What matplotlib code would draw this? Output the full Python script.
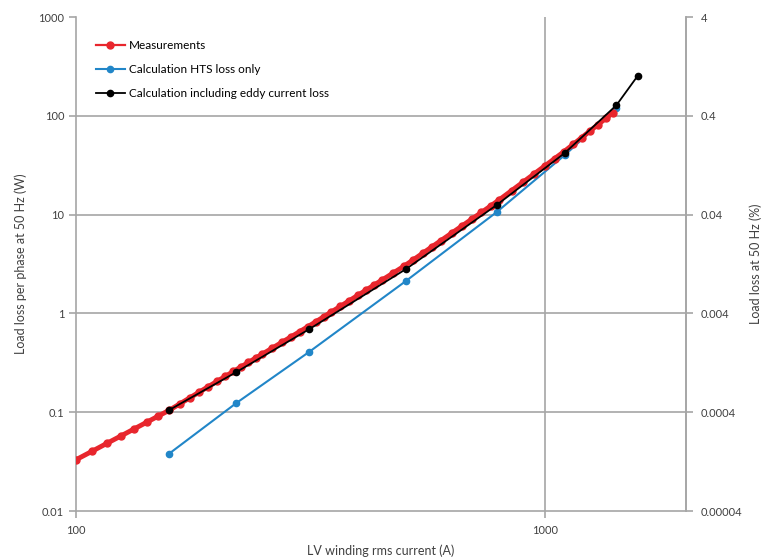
import numpy as np
import matplotlib
matplotlib.use("Agg")
import matplotlib.pyplot as plt
from matplotlib.ticker import FixedLocator, FixedFormatter, NullLocator

plt.rcParams['font.family'] = ['Lato', 'DejaVu Sans']

# Measurements (LV current in A, load loss per phase in W)
meas_current = [100, 108.3, 116.7, 125, 133.3, 141.7, 150, 158.3, 166.7, 175,
                183.3, 191.7, 200, 208.3, 216.7, 225, 233.3, 241.7, 250, 262.5,
                275, 287.5, 300, 312.5, 325, 337.5, 350, 366.7, 383.3, 400,
                416.7, 433.3, 450, 475, 500, 525, 550, 575, 600, 633,
                667, 700, 733, 767, 800, 850, 900, 950, 1000, 1050,
                1100, 1150, 1200, 1250, 1300, 1350, 1400]
meas_loss = [0.0330, 0.0403, 0.0487, 0.0578, 0.0680, 0.0793, 0.0916, 0.105, 0.1217, 0.1399,
             0.1599, 0.1818, 0.2053, 0.2307, 0.2585, 0.2876, 0.3192, 0.3529, 0.3883, 0.4463,
             0.5096, 0.5783, 0.6530, 0.7338, 0.8237, 0.9220, 1.028, 1.181, 1.348, 1.532,
             1.731, 1.946, 2.179, 2.561, 2.986, 3.499, 4.079, 4.723, 5.435, 6.483,
             7.702, 9.036, 10.52, 12.22, 14.11, 17.47, 21.37, 25.87, 31.00, 36.84,
             43.41, 51.28, 60.23, 70.26, 81.47, 93.98, 107.9]

# Calculation, HTS loss only
hts_current = [158, 220, 315, 506, 790, 1104, 1423]
hts_loss = [0.038, 0.124, 0.41, 2.13, 10.6, 40, 120]

# Calculation including eddy current loss
eddy_current = [158, 220, 315, 506, 790, 1104, 1423, 1579]
eddy_loss = [0.105, 0.255, 0.695, 2.81, 12.5, 42, 128, 253]

y_ticks = [0.01, 0.1, 1, 10, 100, 1000]
y_labels = ['0.01', '0.1', '1', '10', '100', '1000']
y2_ticks = [0.00004, 0.0004, 0.004, 0.04, 0.4, 4]
y2_labels = ['0.00004', '0.0004', '0.004', '0.04', '0.4', '4']
x_ticks = [100, 1000]
x_labels = ['100', '1000']

grey = '#a6a6a6'
txt = '#404040'

fig = plt.figure(figsize=(7.67, 5.58), dpi=100)
ax = fig.add_axes([0.099, 0.0842, 0.795, 0.8853])

ax.plot(hts_current, hts_loss, color='#2186c8', lw=1.5, marker='o', ms=4.5,
        label='Calculation HTS loss only', zorder=3)
ax.plot(meas_current, meas_loss, color='#e8262d', lw=3.5, marker='o', ms=5,
        label='Measurements', zorder=4)
ax.plot(eddy_current, eddy_loss, color='black', lw=1.3, marker='o', ms=4.5,
        label='Calculation including eddy current loss', zorder=5)

ax.set_xscale('log')
ax.set_yscale('log')
ax.set_xlim(100, 2000)
ax.set_ylim(0.01, 1000)

ax.xaxis.set_major_locator(FixedLocator(x_ticks))
ax.xaxis.set_major_formatter(FixedFormatter(x_labels))
ax.xaxis.set_minor_locator(NullLocator())
ax.yaxis.set_major_locator(FixedLocator(y_ticks))
ax.yaxis.set_major_formatter(FixedFormatter(y_labels))
ax.yaxis.set_minor_locator(NullLocator())

for v in [0.1, 1, 10, 100]:
    ax.axhline(v, color=grey, lw=1.2, zorder=1)
ax.axvline(1000, color=grey, lw=1.2, zorder=1)

for s in ['left', 'bottom', 'right']:
    ax.spines[s].set_color(grey)
    ax.spines[s].set_linewidth(1.2)
ax.spines['top'].set_visible(False)
ax.tick_params(axis='both', colors=grey, labelcolor=txt, labelsize=8, length=5, width=1.2)
ax.tick_params(axis='x', pad=5)

ax.set_xlabel('LV winding rms current (A)', fontsize=9, color=txt, labelpad=6)
ax.set_ylabel('Load loss per phase at 50 Hz (W)', fontsize=9, color=txt, labelpad=8)

ax2 = ax.twinx()
ax2.set_yscale('log')
ax2.set_ylim(0.00004, 4)
ax2.yaxis.set_major_locator(FixedLocator(y2_ticks))
ax2.yaxis.set_major_formatter(FixedFormatter(y2_labels))
ax2.yaxis.set_minor_locator(NullLocator())
for s in ['left', 'bottom', 'top']:
    ax2.spines[s].set_visible(False)
ax2.spines['right'].set_color(grey)
ax2.spines['right'].set_linewidth(1.2)
ax2.tick_params(axis='y', colors=grey, labelcolor=txt, labelsize=8, length=5, width=1.2, pad=6)
ax2.set_ylabel('Load loss at 50 Hz (%)', fontsize=9, color=txt, labelpad=5)

handles, labels = ax.get_legend_handles_labels()
order = [1, 0, 2]
leg = ax.legend([handles[i] for i in order], [labels[i] for i in order],
                loc='upper left', bbox_to_anchor=(0.015, 0.975), frameon=False,
                fontsize=8.5, handlelength=2.5, handletextpad=0.3, labelspacing=1.1)
leg.get_lines()[0].set_linewidth(1.6)

fig.savefig('out.png', dpi=100)
